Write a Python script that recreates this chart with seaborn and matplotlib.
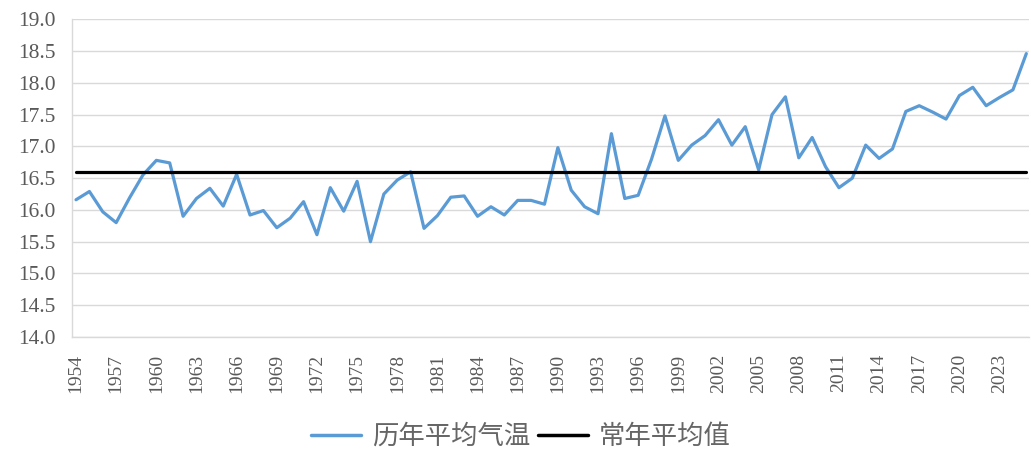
import matplotlib
matplotlib.use("Agg")
import matplotlib.pyplot as plt
import seaborn as sns
import pandas as pd

years = list(range(1954, 2026))
annual_temp = [
    16.16, 16.29, 15.97, 15.80, 16.19, 16.55, 16.78, 16.74, 15.90, 16.18,
    16.34, 16.06, 16.56, 15.92, 15.99, 15.72, 15.87, 16.13, 15.61, 16.35,
    15.98, 16.45, 15.50, 16.25, 16.47, 16.60, 15.71, 15.91, 16.20, 16.22,
    15.90, 16.05, 15.92, 16.15, 16.15, 16.09, 16.98, 16.31, 16.05, 15.94,
    17.20, 16.18, 16.23, 16.80, 17.48, 16.78, 17.02, 17.17, 17.42, 17.02,
    17.31, 16.63, 17.50, 17.78, 16.82, 17.14, 16.68, 16.35, 16.50, 17.02,
    16.81, 16.96, 17.55, 17.64, 17.54, 17.43, 17.80, 17.93, 17.64, 17.77,
    17.89, 18.46,
]
normal_value = 16.6
series_names = ["历年平均气温", "常年平均值"]
series_colors = ["#5B9BD5", "#000000"]
y_ticks = [14.0, 14.5, 15.0, 15.5, 16.0, 16.5, 17.0, 17.5, 18.0, 18.5, 19.0]
x_ticks = list(range(1954, 2024, 3))

df = pd.concat([
    pd.DataFrame({"year": years, "value": annual_temp, "series": series_names[0]}),
    pd.DataFrame({"year": years, "value": [normal_value] * len(years), "series": series_names[1]}),
])

sns.set_theme(style="white")
plt.rcParams["font.family"] = ["Liberation Serif", "Noto Sans CJK SC", "DejaVu Sans"]

fig = plt.figure(figsize=(10.31, 4.49), dpi=100)
ax = fig.add_axes([72 / 1031, 1 - 337 / 449, (1029 - 72) / 1031, (337 - 19.3) / 449])

sns.lineplot(data=df, x="year", y="value", hue="series",
             palette=dict(zip(series_names, series_colors)),
             linewidth=2.3, ax=ax, legend=True)
for line in ax.lines:
    line.set_solid_capstyle("round")

ax.set_xlim(1953.7, 2025.2)
ax.set_ylim(14.0, 19.0)
ax.set_yticks(y_ticks)
ax.set_yticklabels([f"{v:.1f}" for v in y_ticks], fontsize=15.5, color="#595959")
ax.set_xticks(x_ticks)
ax.set_xticklabels([str(x) for x in x_ticks], rotation=90, fontsize=14, color="#595959")
ax.tick_params(axis="both", length=0)
ax.tick_params(axis="y", pad=12)
ax.tick_params(axis="x", pad=12)
ax.set_xlabel("")
ax.set_ylabel("")
ax.yaxis.grid(True, color="#d9d9d9", linewidth=1)
ax.xaxis.grid(False)
for side in ["top", "right"]:
    ax.spines[side].set_visible(False)
for side in ["left", "bottom"]:
    ax.spines[side].set_color("#d9d9d9")
    ax.spines[side].set_linewidth(1)

handles, labels = ax.get_legend_handles_labels()
ax.get_legend().remove()
leg = fig.legend(handles, labels, loc="center", bbox_to_anchor=(0.505, 0.028),
                 ncol=2, frameon=False, handlelength=1.9, handletextpad=0.4,
                 columnspacing=0.3,
                 prop={"family": ["Noto Sans CJK SC", "DejaVu Sans"], "size": 19,
                       "weight": "light"})
for t in leg.get_texts():
    t.set_color("#666666")
for h in leg.get_lines():
    h.set_linewidth(2.5)

fig.savefig("out.png", dpi=100)
